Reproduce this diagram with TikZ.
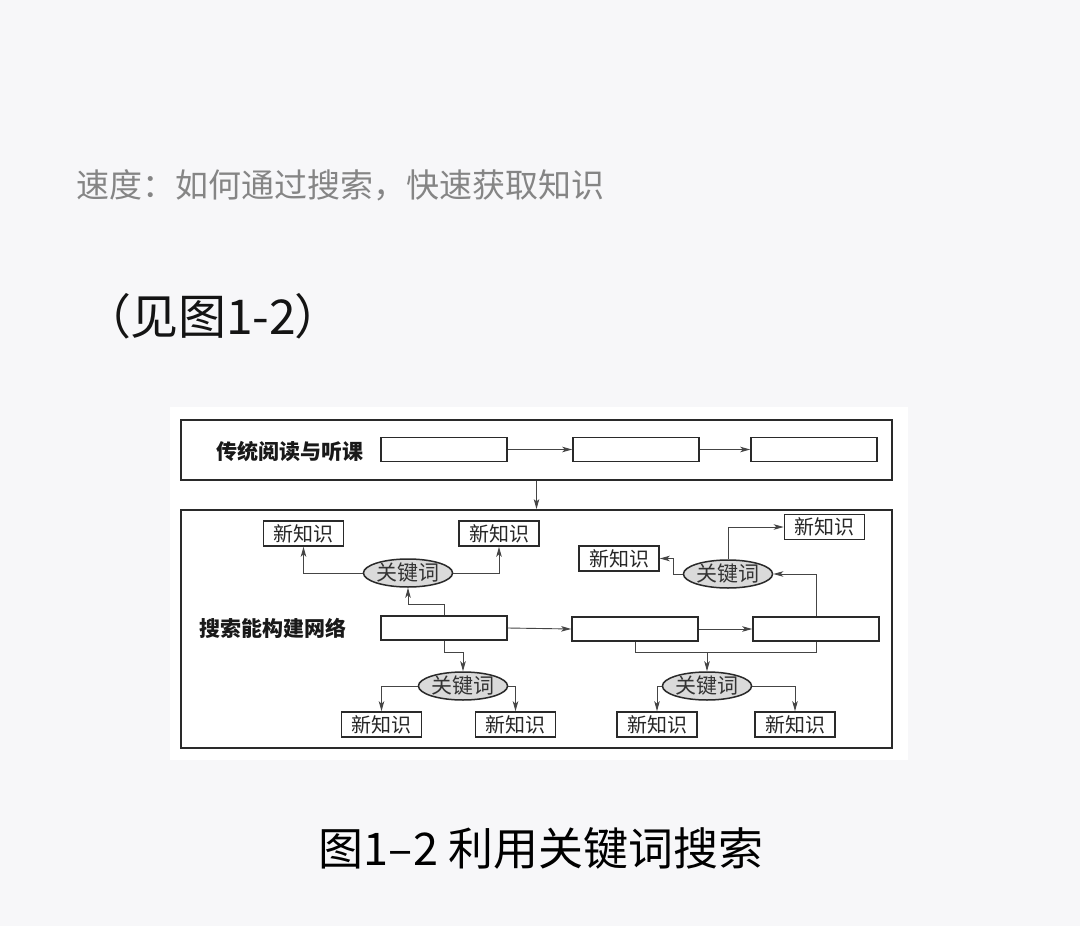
\documentclass[tikz,border=0pt]{standalone}
\usepackage{fontspec}
\setmainfont{Noto Sans CJK SC}
\newfontfamily\cjkp{Noto Sans CJK SC}[RawFeature=+palt]
\usetikzlibrary{shapes.geometric,arrows.meta}
\definecolor{pagebg}{HTML}{F7F7F9}
\definecolor{titlegray}{HTML}{858585}
\definecolor{boxline}{HTML}{2A2A2A}
\definecolor{connline}{HTML}{454545}
\definecolor{kwfill}{HTML}{DADADA}
\begin{document}
\begin{tikzpicture}[x=1pt,y=-1pt,
  outerbox/.style={draw=boxline,line width=1.8pt,rectangle,inner sep=0pt},
  blankbox/.style={draw=boxline,line width=1.6pt,rectangle,inner sep=0pt,minimum width=126pt,minimum height=24pt},
  knbox/.style={draw=boxline,line width=1.6pt,rectangle,inner sep=0pt,minimum width=80pt,minimum height=25pt,font=\fontsize{20}{22}\selectfont,text=black!85},
  kw/.style={draw=boxline,line width=1.5pt,ellipse,fill=kwfill,inner sep=0pt,minimum width=88pt,minimum height=28pt,font=\fontsize{21}{23}\selectfont,text=black!80},
  sidelabel/.style={font=\fontsize{21}{23}\selectfont\bfseries,text=black!90,inner sep=0pt},
  conn/.style={draw=connline,line width=0.9pt},
  arr/.style={conn,-{Stealth[length=10pt,width=5.5pt,inset=2.5pt]}}]
\useasboundingbox (0,0) rectangle (1080,926);
\fill[pagebg] (0,0) rectangle (1080,926);
\fill[white] (170,407) rectangle (908,760);

% title texts
\node[anchor=west,inner sep=0pt,text=titlegray,font=\fontsize{33}{36}\selectfont] (title) at (76,185) {速度：如何通过搜索，快速获取知识};
\node[anchor=west,inner sep=0pt,text=black!92,font=\cjkp\fontsize{48}{52}\selectfont] (see) at (106,316) {（见图1-2）};
\node[inner sep=0pt,text=black,font=\fontsize{45}{50}\selectfont] (caption) at (541,848) {图1–2 利用关键词搜索};

% outer boxes
\node[outerbox,minimum width=711pt,minimum height=60pt] (topbox) at (536.5,450) {};
\node[outerbox,minimum width=711pt,minimum height=238pt] (botbox) at (536.5,629) {};

% top row
\node[sidelabel] (lab1) at (290,451) {传统阅读与听课};
\node[blankbox] (t1) at (444,449.5) {};
\node[blankbox] (t2) at (636,449.5) {};
\node[blankbox] (t3) at (814,449.5) {};
\draw[arr] (t1.east) -- (t2.west);
\draw[arr] (t2.east) -- (t3.west);
\draw[arr] (topbox.south) -- (botbox.north);

% middle row
\node[sidelabel] (lab2) at (273,628) {搜索能构建网络};
\node[blankbox] (a) at (444,628) {};
\node[blankbox] (b) at (635,629) {};
\node[blankbox] (c) at (816,629) {};
\draw[arr] (a.east) -- (b.west);
\draw[arr] (b.east) -- (c.west);

% top-left keyword
\node[kw] (kw1) at (408,573) {关键词};
\node[knbox] (n1) at (303.5,533.5) {新知识};
\node[knbox] (n2) at (499,533.5) {新知识};
\draw[arr] (kw1.west) -| (n1.south);
\draw[arr] (kw1.east) -| (n2.south);
\draw[arr] (a.north) -- ++(0,-11) -| (kw1.south);

% bottom-left keyword
\node[kw] (kw2) at (463,686) {关键词};
\node[knbox] (n3) at (381.5,724.5) {新知识};
\node[knbox] (n4) at (515.5,724.5) {新知识};
\draw[arr] (a.south) -- ++(0,12) -| (kw2.north);
\draw[arr] (kw2.west) -| (n3.north);
\draw[arr] (kw2.east) -| (n4.north);

% bottom-right keyword
\node[kw] (kw3) at (707,686) {关键词};
\node[knbox] (n5) at (657,724.5) {新知识};
\node[knbox] (n6) at (795,724.5) {新知识};
\draw[conn] (b.south) -- ++(0,11) coordinate (m1) -| (c.south);
\draw[arr] (kw3.north |- m1) -- (kw3.north);
\draw[arr] (kw3.west) -| (n5.north);
\draw[arr] (kw3.east) -| (n6.north);

% top-right keyword
\node[kw] (kw4) at (728,574) {关键词};
\node[knbox] (n7) at (824.5,527) {新知识};
\node[knbox] (n8) at (619,558.5) {新知识};
\draw[arr] (kw4.north) |- (n7.west);
\draw[arr] (kw4.west) -- ++(-9,0) |- (n8.east);
\draw[arr] (c.north) |- (kw4.east);
\end{tikzpicture}
\end{document}
